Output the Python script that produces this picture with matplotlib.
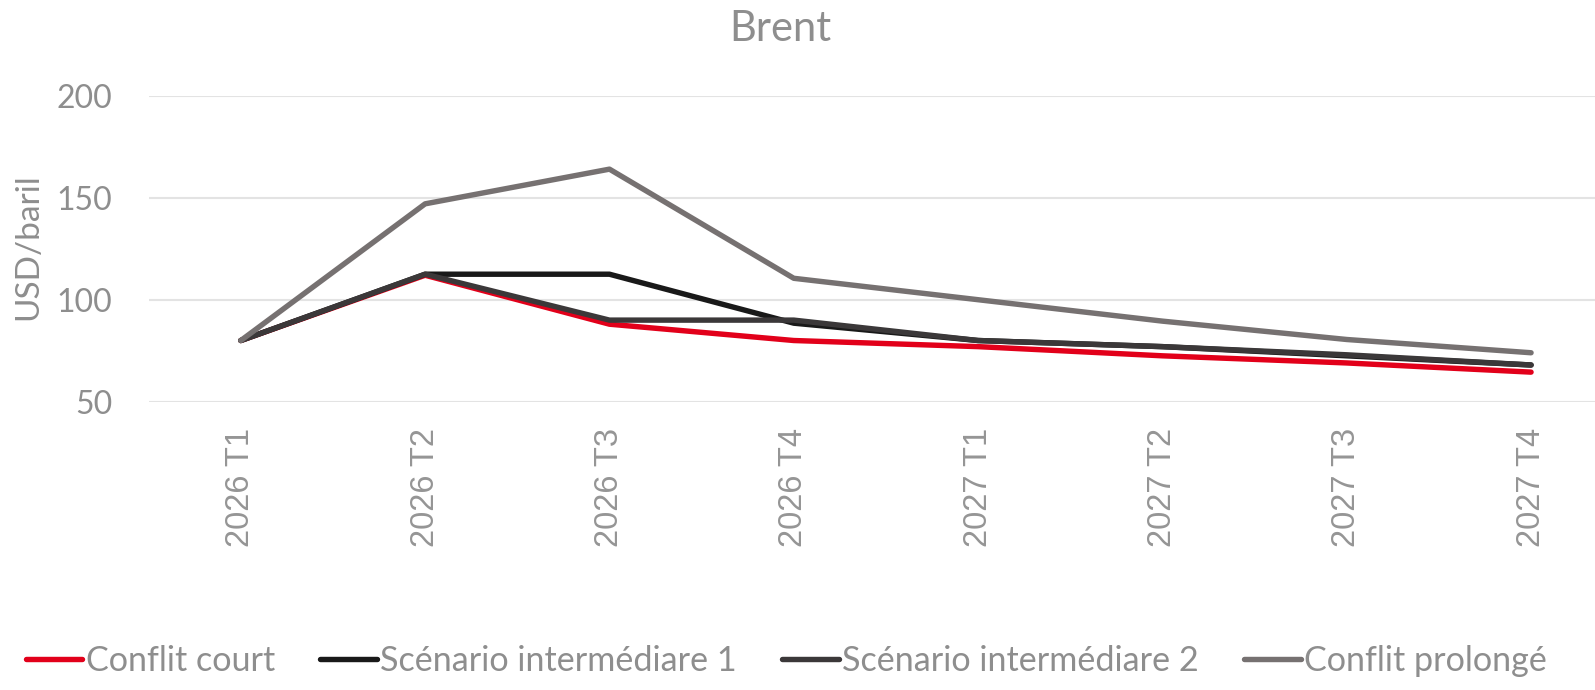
import numpy as np
import matplotlib
matplotlib.use("Agg")
import matplotlib.pyplot as plt

# data
quarters = ["2026 T1", "2026 T2", "2026 T3", "2026 T4",
            "2027 T1", "2027 T2", "2027 T3", "2027 T4"]
conflit_court = [80, 112, 88, 80, 77, 72.5, 69, 64.5]
intermediaire_1 = [80, 112.5, 112.5, 88.5, 80, 77, 72.5, 68]
intermediaire_2 = [80, 112.5, 90, 90, 80, 77, 73, 68]
conflit_prolonge = [80, 147, 164, 110.5, 100, 89.5, 80.5, 74]

series = [
    ("Conflit court", conflit_court, "#E2001A"),
    ("Scénario intermédiare 1", intermediaire_1, "#191919"),
    ("Scénario intermédiare 2", intermediaire_2, "#3B3839"),
    ("Conflit prolongé", conflit_prolonge, "#767171"),
]

txt = "#8e8e8e"
main_font = ["Lato", "DejaVu Sans"]

fig = plt.figure(figsize=(15.95, 6.9), dpi=100)
ax = fig.add_axes([0.0932, 0.4178, 0.9245, 0.4435])

x = np.arange(len(quarters))
for name, vals, col in series:
    ax.plot(x, vals, color=col, lw=3.9, label=name,
            solid_capstyle="round", solid_joinstyle="round")

ax.set_xlim(-0.5, len(quarters) - 0.5)
ax.set_ylim(50, 200)
ax.set_yticks([50, 100, 150, 200])
ax.grid(axis="y", color="#e3e3e3", lw=1.5)
ax.set_axisbelow(True)
for s in ax.spines.values():
    s.set_visible(False)
ax.tick_params(length=0)

ax.set_xticks(x)
ax.set_xticklabels(quarters, rotation=90, fontsize=23.5, color="#959595",
                   family=["Liberation Sans", "DejaVu Sans"])
ax.tick_params(axis="x", pad=19)
for lab in ax.get_yticklabels():
    lab.set_fontsize(23)
    lab.set_color(txt)
    lab.set_family(main_font)
ax.tick_params(axis="y", pad=26)

fig.text(28 / 1595, 1 - 247 / 690, "USD/baril", rotation=90, ha="center",
         va="center", fontsize=24, color=txt, family=main_font)
fig.text(780 / 1595, 1 - 29 / 690, "Brent", ha="center", va="center",
         fontsize=30, color=txt, family=main_font)

leg = fig.legend(loc="center left", bbox_to_anchor=(26 / 1595, 1 - 661 / 690),
                 ncol=4, frameon=False, handlelength=1.65, handletextpad=0.1,
                 columnspacing=1.33, borderpad=0, borderaxespad=0,
                 prop={"family": main_font, "size": 24.6})
for t in leg.get_texts():
    t.set_color(txt)

fig.savefig("out.png", dpi=100)
